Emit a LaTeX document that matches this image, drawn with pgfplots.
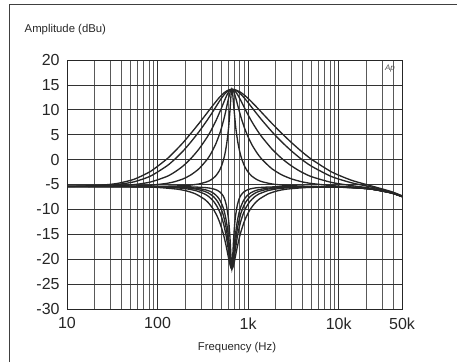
\documentclass[border=0pt]{standalone}
\usepackage{fontspec}
\setmainfont{Liberation Sans}
\usepackage{pgfplots}
\pgfplotsset{compat=1.18}
\begin{document}
\begin{tikzpicture}
\begin{axis}[
  at={(0pt,0pt)}, anchor=south west,
  width=251.25pt, height=186.75pt, scale only axis,
  xmode=log, xmin=10, xmax=50000, ymin=-30, ymax=20,
  xtick={10,100,1000,10000,50000}, xticklabels={10,100,1k,10k,50k},
  minor xtick={20,30,40,50,60,70,80,90,200,300,400,500,600,700,800,900,2000,3000,4000,5000,6000,7000,8000,9000,20000,30000,40000},
  ytick={-30,-25,-20,-15,-10,-5,0,5,10,15,20},
  yticklabels={-30,-25,-20,-15,-10,-5,0,5,10,15,20},
  grid=both, major tick length=0pt, minor tick length=0pt,
  tick label style={font=\fontsize{12}{14}\selectfont, text=black!85},
  xticklabel style={yshift=-3pt},
  yticklabel style={xshift=-2pt},
  axis line style={black!85, line width=0.6pt},
  major grid style={black!80, line width=0.5pt},
  minor grid style={black!65, line width=0.4pt},
  cycle list={{black!85, solid, mark=none}},
  every axis plot post/.append style={line width=1pt, black!85, smooth, tension=0.4, mark=none},
]
% boost curves
\addplot coordinates {(10,-5.40)(14.6,-5.40)(24,-5.40)(36.3,-5.40)(55,-5.40)(83.2,-5.38)(126,-5.34)(155,-5.30)(191,-5.23)(234,-5.11)(288,-4.88)(355,-4.42)(394,-4.00)(437,-3.31)(474,-2.42)(505,-1.41)(537,0.10)(560,1.54)(583,3.52)(608,6.36)(634,10.51)(647,12.88)(660.7,14.10)
(677.6,12.88)(695,10.51)(731,6.36)(769,3.52)(809,1.54)(851,0.10)(918,-1.41)(991,-2.42)(1096,-3.31)(1245,-4.00)(1413,-4.42)(1820,-4.88)(2344,-5.11)(3020,-5.23)(3890,-5.32)(5012,-5.36)(8318,-5.45)(13804,-5.59)(22909,-5.91)(38019,-6.68)(50000,-7.42)};
\addplot coordinates {(10,-5.40)(14.6,-5.40)(24,-5.38)(36.3,-5.36)(55,-5.30)(83.2,-5.15)(126,-4.78)(155,-4.42)(191,-3.88)(234,-3.05)(288,-1.80)(355,0.10)(394,1.41)(437,3.05)(474,4.70)(505,6.20)(537,7.98)(560,9.34)(583,10.82)(608,12.33)(634,13.59)(647,13.97)(660.7,14.10)
(677.6,13.97)(695,13.59)(731,12.33)(769,10.82)(809,9.34)(851,7.98)(918,6.20)(991,4.70)(1096,3.05)(1245,1.41)(1413,0.10)(1820,-1.80)(2344,-3.05)(3020,-3.88)(3890,-4.44)(5012,-4.80)(8318,-5.22)(13804,-5.49)(22909,-5.87)(38019,-6.66)(50000,-7.41)};
\addplot coordinates {(10,-5.39)(14.6,-5.38)(24,-5.34)(36.3,-5.25)(55,-5.03)(83.2,-4.51)(126,-3.40)(155,-2.49)(191,-1.29)(234,0.25)(288,2.18)(355,4.59)(394,6.02)(437,7.65)(474,9.10)(505,10.26)(537,11.46)(560,12.25)(583,12.97)(608,13.56)(634,13.96)(647,14.07)(660.7,14.10)
(677.6,14.07)(695,13.96)(731,13.56)(769,12.97)(809,12.25)(851,11.46)(918,10.26)(991,9.10)(1096,7.65)(1245,6.02)(1413,4.59)(1820,2.18)(2344,0.25)(3020,-1.29)(3890,-2.51)(5012,-3.43)(8318,-4.58)(13804,-5.22)(22909,-5.76)(38019,-6.62)(50000,-7.38)};
\addplot coordinates {(10,-5.38)(14.6,-5.35)(24,-5.24)(36.3,-5.00)(55,-4.46)(83.2,-3.33)(126,-1.30)(155,0.08)(191,1.71)(234,3.57)(288,5.65)(355,7.97)(394,9.21)(437,10.50)(474,11.52)(505,12.26)(537,12.93)(560,13.32)(583,13.65)(608,13.89)(634,14.05)(647,14.09)(660.7,14.10)
(677.6,14.09)(695,14.05)(731,13.89)(769,13.65)(809,13.32)(851,12.93)(918,12.26)(991,11.52)(1096,10.50)(1245,9.21)(1413,7.97)(1820,5.65)(2344,3.57)(3020,1.71)(3890,0.06)(5012,-1.33)(8318,-3.40)(13804,-4.65)(22909,-5.51)(38019,-6.52)(50000,-7.32)};
\addplot coordinates {(10,-5.36)(14.6,-5.31)(24,-5.14)(36.3,-4.77)(55,-3.95)(83.2,-2.39)(126,0.09)(155,1.66)(191,3.40)(234,5.30)(288,7.32)(355,9.45)(394,10.52)(437,11.56)(474,12.35)(505,12.88)(537,13.35)(560,13.61)(583,13.82)(608,13.97)(634,14.07)(647,14.10)(660.7,14.10)
(677.6,14.10)(695,14.07)(731,13.97)(769,13.82)(809,13.61)(851,13.35)(918,12.88)(991,12.35)(1096,11.56)(1245,10.52)(1413,9.45)(1820,7.32)(2344,5.30)(3020,3.40)(3890,1.64)(5012,0.06)(8318,-2.46)(13804,-4.14)(22909,-5.28)(38019,-6.42)(50000,-7.26)};
% cut curves
\addplot coordinates {(10,-5.40)(66.07,-5.40)(104.7,-5.41)(166.0,-5.43)(208.9,-5.46)(263.0,-5.51)(331.1,-5.61)(371.5,-5.71)(416.9,-5.90)(457.1,-6.17)(489.8,-6.53)(524.8,-7.17)(549.5,-7.92)(575.4,-9.18)(602.6,-11.44)(616.6,-13.25)(631.0,-15.82)(645.7,-19.33)(653.1,-21.09)(660.7,-21.90)
(668.3,-21.09)(676.1,-19.33)(691.8,-15.82)(707.9,-13.25)(724.4,-11.44)(758.6,-9.18)(794.3,-7.92)(831.8,-7.17)(891.3,-6.53)(955.0,-6.17)(1047,-5.90)(1175,-5.71)(1318,-5.61)(1660,-5.51)(2089,-5.46)(2630,-5.43)(4169,-5.43)(6607,-5.45)(8318,-5.47)(13804,-5.59)(22909,-5.91)(38019,-6.68)(50000,-7.42)};
\addplot coordinates {(10,-5.40)(66.07,-5.42)(104.7,-5.44)(166.0,-5.51)(208.9,-5.58)(263.0,-5.72)(331.1,-6.02)(371.5,-6.30)(416.9,-6.77)(457.1,-7.42)(489.8,-8.20)(524.8,-9.42)(549.5,-10.65)(575.4,-12.41)(602.6,-15.01)(616.6,-16.75)(631.0,-18.81)(645.7,-20.88)(653.1,-21.62)(660.7,-21.90)
(668.3,-21.62)(676.1,-20.88)(691.8,-18.81)(707.9,-16.75)(724.4,-15.01)(758.6,-12.41)(794.3,-10.65)(831.8,-9.42)(891.3,-8.20)(955.0,-7.42)(1047,-6.77)(1175,-6.30)(1318,-6.02)(1660,-5.72)(2089,-5.58)(2630,-5.51)(4169,-5.46)(6607,-5.47)(8318,-5.48)(13804,-5.60)(22909,-5.91)(38019,-6.68)(50000,-7.42)};
\addplot coordinates {(10,-5.40)(66.07,-5.43)(104.7,-5.46)(166.0,-5.57)(208.9,-5.69)(263.0,-5.92)(331.1,-6.38)(371.5,-6.80)(416.9,-7.47)(457.1,-8.35)(489.8,-9.34)(524.8,-10.80)(549.5,-12.18)(575.4,-14.03)(602.6,-16.55)(616.6,-18.10)(631.0,-19.77)(645.7,-21.26)(653.1,-21.73)(660.7,-21.90)
(668.3,-21.73)(676.1,-21.26)(691.8,-19.77)(707.9,-18.10)(724.4,-16.55)(758.6,-14.03)(794.3,-12.18)(831.8,-10.80)(891.3,-9.34)(955.0,-8.35)(1047,-7.47)(1175,-6.80)(1318,-6.38)(1660,-5.92)(2089,-5.69)(2630,-5.57)(4169,-5.48)(6607,-5.48)(8318,-5.49)(13804,-5.60)(22909,-5.91)(38019,-6.68)(50000,-7.42)};
\addplot coordinates {(10,-5.41)(66.07,-5.44)(104.7,-5.51)(166.0,-5.68)(208.9,-5.87)(263.0,-6.22)(331.1,-6.90)(371.5,-7.50)(416.9,-8.41)(457.1,-9.51)(489.8,-10.69)(524.8,-12.32)(549.5,-13.77)(575.4,-15.60)(602.6,-17.91)(616.6,-19.20)(631.0,-20.48)(645.7,-21.50)(653.1,-21.80)(660.7,-21.90)
(668.3,-21.80)(676.1,-21.50)(691.8,-20.48)(707.9,-19.20)(724.4,-17.91)(758.6,-15.60)(794.3,-13.77)(831.8,-12.32)(891.3,-10.69)(955.0,-9.51)(1047,-8.41)(1175,-7.50)(1318,-6.90)(1660,-6.22)(2089,-5.87)(2630,-5.68)(4169,-5.53)(6607,-5.49)(8318,-5.50)(13804,-5.61)(22909,-5.92)(38019,-6.68)(50000,-7.42)};
\addplot coordinates {(10,-5.42)(66.07,-5.48)(104.7,-5.61)(166.0,-5.94)(208.9,-6.29)(263.0,-6.89)(331.1,-7.98)(371.5,-8.85)(416.9,-10.08)(457.1,-11.45)(489.8,-12.80)(524.8,-14.52)(549.5,-15.93)(575.4,-17.58)(602.6,-19.41)(616.6,-20.32)(631.0,-21.13)(645.7,-21.69)(653.1,-21.85)(660.7,-21.90)
(668.3,-21.85)(676.1,-21.69)(691.8,-21.13)(707.9,-20.32)(724.4,-19.41)(758.6,-17.58)(794.3,-15.93)(831.8,-14.52)(891.3,-12.80)(955.0,-11.45)(1047,-10.08)(1175,-8.85)(1318,-7.98)(1660,-6.89)(2089,-6.29)(2630,-5.94)(4169,-5.63)(6607,-5.53)(8318,-5.52)(13804,-5.62)(22909,-5.93)(38019,-6.69)(50000,-7.42)};
\end{axis}
\draw[black!75, line width=0.8pt] (-43.1pt,-39.75pt) -- (-43.1pt,228.4pt) -- (292.5pt,228.4pt);
\node[anchor=west, font=\fontsize{8.5}{10}\selectfont, text=black!85] at (-35.25pt,209.25pt) {Amplitude (dBu)};
\node[font=\fontsize{8.5}{10}\selectfont, text=black!85] at (127.5pt,-29.25pt) {Frequency (Hz)};
\node[font=\fontsize{6}{7}\selectfont\itshape, text=black!70] at (242.25pt,180.4pt) {Ap};
\pgfresetboundingbox
\useasboundingbox (-50.25pt,-39.75pt) rectangle (292.5pt,231.75pt);
\end{tikzpicture}
\end{document}
